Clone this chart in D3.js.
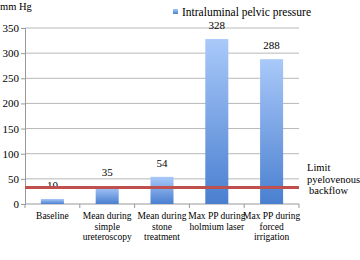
<!DOCTYPE html>
<html lang="en">
<head>
<meta charset="UTF-8">
<script src="https://d3js.org/d3.v7.min.js"></script>
<style>
  body { margin: 0; background: #fff; }
  svg { display: block; font-family: "Liberation Serif", "DejaVu Serif", serif; }
</style>
</head>
<body>
<div id="chart"></div>
<script>
// chart data
const categories = [
  ["Baseline"],
  ["Mean during", "simple", "ureteroscopy"],
  ["Mean during", "stone", "treatment"],
  ["Max PP during", "holmium laser"],
  ["Max PP during", "forced", "irrigation"]
];
const pressures = [10, 35, 54, 328, 288];
const yTicks = [0, 50, 100, 150, 200, 250, 300, 350];
const limitValue = 33;
const limitLabel = ["Limit", "pyelovenous", "backflow"];
const seriesName = "Intraluminal pelvic pressure";
const unitLabel = "mm Hg";

const W = 360, H = 260;
const margin = {top: 28, right: 61, bottom: 56, left: 25};
const width = W - margin.left - margin.right,
      height = H - margin.top - margin.bottom;

const svg = d3.select("#chart").append("svg")
    .attr("width", W).attr("height", H);

const defs = svg.append("defs");
const grad = defs.append("linearGradient")
    .attr("id", "barGrad").attr("x1", 0).attr("y1", 0).attr("x2", 0).attr("y2", 1);
grad.append("stop").attr("offset", "0%").attr("stop-color", "#a9c9f9");
grad.append("stop").attr("offset", "100%").attr("stop-color", "#4a7fd0");

const g = svg.append("g").attr("transform", `translate(${margin.left},${margin.top})`);

const x = d3.scaleBand().domain(d3.range(categories.length)).range([0, width]).paddingInner(0.58).paddingOuter(0.29);
const y = d3.scaleLinear().domain([0, 350]).range([height, 0]);

// gridlines
g.append("g").selectAll("line").data(yTicks.filter(d => d > 0)).join("line")
    .attr("x1", 0).attr("x2", width)
    .attr("y1", d => y(d)).attr("y2", d => y(d))
    .attr("stroke", "#b8b8b8").attr("stroke-width", 1);

// y axis
const yAxis = g.append("g").call(d3.axisLeft(y).tickValues(yTicks).tickSize(4).tickPadding(2));
yAxis.select(".domain").attr("stroke", "#999");
yAxis.selectAll(".tick line").attr("stroke", "#999");
yAxis.selectAll("text").attr("font-size", 11).attr("fill", "#000")
    .attr("font-family", "Liberation Serif, serif");

// x axis (ticks at band boundaries)
const step = x.step();
g.append("line").attr("x1", 0).attr("x2", width).attr("y1", height).attr("y2", height)
    .attr("stroke", "#999");
g.append("g").selectAll("line").data(d3.range(categories.length + 1)).join("line")
    .attr("x1", i => i * step).attr("x2", i => i * step)
    .attr("y1", height).attr("y2", height + 4).attr("stroke", "#999");

// bars
g.append("g").selectAll("rect").data(pressures).join("rect")
    .attr("x", (d, i) => x(i)).attr("width", x.bandwidth())
    .attr("y", d => y(d)).attr("height", d => height - y(d))
    .attr("fill", "url(#barGrad)");

// value labels
g.append("g").selectAll("text").data(pressures).join("text")
    .attr("x", (d, i) => x(i) + x.bandwidth() / 2)
    .attr("y", d => y(d) - 10)
    .attr("text-anchor", "middle").attr("font-size", 11)
    .text(d => d);

// category labels
const cat = g.append("g").selectAll("text").data(categories).join("text")
    .attr("text-anchor", "middle").attr("font-size", 9.5)
    .attr("transform", (d, i) => `translate(${x(i) + x.bandwidth() / 2},${height + 15})`);
cat.selectAll("tspan").data(d => d).join("tspan")
    .attr("x", 0).attr("dy", (d, i) => i === 0 ? 0 : 10.5)
    .text(d => d);

// limit line
g.append("line").attr("x1", 0).attr("x2", width)
    .attr("y1", y(limitValue)).attr("y2", y(limitValue))
    .attr("stroke", "#c0504d").attr("stroke-width", 3);

const lim = g.append("text").attr("font-size", 10.5)
    .attr("transform", `translate(${width + 8},${y(limitValue) - 16})`);
lim.selectAll("tspan").data(limitLabel).join("tspan")
    .attr("x", (d, i) => i === 2 ? 2 : 0).attr("dy", (d, i) => i === 0 ? 0 : 11.5)
    .text(d => d);

// legend
svg.append("rect").attr("x", 173).attr("y", 9).attr("width", 5).attr("height", 5)
    .attr("fill", "url(#barGrad)");
svg.append("text").attr("x", 182).attr("y", 16).attr("font-size", 11.5).text(seriesName);

// unit label
svg.append("text").attr("x", 0).attr("y", 10).attr("font-size", 10.5).text(unitLabel);
</script>
</body>
</html>
